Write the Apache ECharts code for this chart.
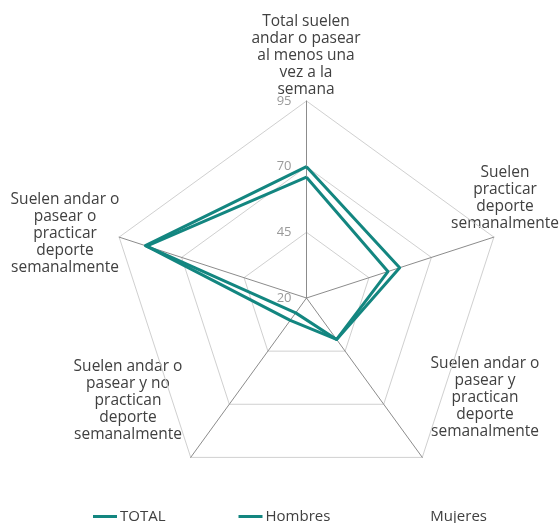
<!DOCTYPE html>
<html>
<head>
<meta charset="utf-8">
<script src="https://cdn.jsdelivr.net/npm/echarts@6/dist/echarts.min.js"></script>
<style>html,body{margin:0;padding:0;background:#fff}#c{width:560px;height:523px}</style>
</head>
<body>
<div id="c"></div>
<script>
// Indicators in ECharts drawing order (counter-clockwise from the top)
var indicators = [
  'Total suelen\nandar o pasear\nal menos una\nvez a la\nsemana',
  'Suelen andar o\npasear o\npracticar\ndeporte\nsemanalmente',
  'Suelen andar o\npasear y no\npractican\ndeporte\nsemanalmente',
  'Suelen andar o\npasear y\npractican\ndeporte\nsemanalmente',
  'Suelen\npracticar\ndeporte\nsemanalmente'
];
var seriesNames = ['TOTAL', 'Hombres', 'Mujeres'];
var totalValues = [66, 84, 30.5, 39.5, 52.6];
var hombresValues = [70, 84.5, 27, 39.5, 57.3];
var mujeresValues = [];
var axisMin = 20, axisMax = 95;
var tickLabels = ['20', '45', '70', '95'];

var FONT = '"Open Sans", sans-serif';
// label anchor positions (layout only)
var namePos = [[306, 55.5], [65, 233.5], [128, 401], [485, 398], [505, 198]];

var chart = echarts.init(document.getElementById('c'), null, {renderer: 'canvas'});
var teal = '#138680';
chart.setOption({
  animation: false,
  backgroundColor: '#fff',
  textStyle: {fontFamily: FONT},
  legend: {
    data: seriesNames,
    left: 88, top: 504,
    icon: 'rect', itemWidth: 24, itemHeight: 3, itemGap: 73,
    textStyle: {fontFamily: FONT, fontSize: 15, color: '#404040', padding: [0, 0, 0, -2]}
  },
  radar: {
    center: [306.5, 298], radius: 197, startAngle: 90, splitNumber: 3, shape: 'polygon',
    axisName: {show: false},
    splitLine: {lineStyle: {color: '#d0d0d0', width: 1}},
    splitArea: {show: false},
    axisLine: {lineStyle: {color: '#8c8c8c', width: 1}},
    axisTick: {show: false},
    axisLabel: {show: false},
    indicator: indicators.map(function (n, i) {
      var o = {name: n, min: axisMin, max: axisMax};
      if (i === 0) o.axisLabel = {show: true, color: '#9a9a9a', fontSize: 13, fontFamily: FONT, margin: 15,
        formatter: function (v) { return tickLabels[tickLabels.indexOf(String(Math.round(v)))] || ''; }};
      return o;
    })
  },
  graphic: indicators.map(function (n, i) {
    return {type: 'text', x: namePos[i][0], y: namePos[i][1], silent: true,
      style: {text: n, font: '15.5px ' + FONT, lineHeight: 17, fill: '#404040', align: 'center', verticalAlign: 'middle'}};
  }),
  series: [
    {name: seriesNames[0], type: 'radar', symbol: 'none', itemStyle: {color: teal},
      lineStyle: {color: teal, width: 3}, data: [{value: totalValues, name: seriesNames[0]}]},
    {name: seriesNames[1], type: 'radar', symbol: 'none', itemStyle: {color: teal},
      lineStyle: {color: teal, width: 3}, data: [{value: hombresValues, name: seriesNames[1]}]},
    {name: seriesNames[2], type: 'radar', symbol: 'none', itemStyle: {color: 'rgba(0,0,0,0)'},
      lineStyle: {color: 'rgba(0,0,0,0)', width: 3}, data: mujeresValues.length ? [{value: mujeresValues, name: seriesNames[2]}] : []}
  ]
});
</script>
</body>
</html>
